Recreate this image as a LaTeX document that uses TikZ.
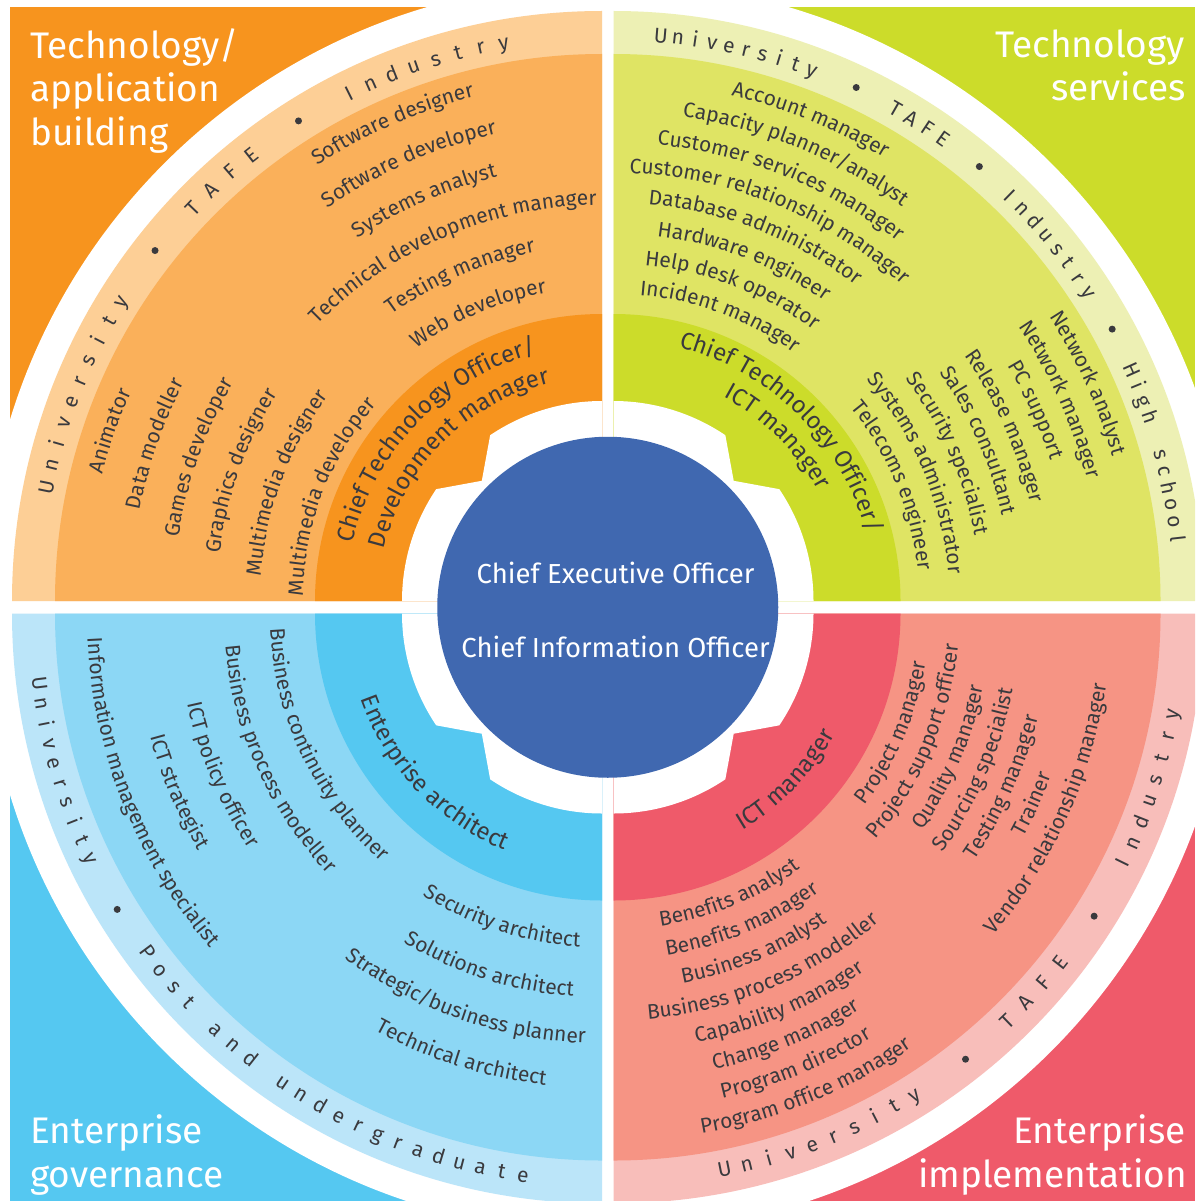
\documentclass[tikz,border=0pt]{standalone}
\usepackage{fontspec}
\setmainfont{Fira Sans}
\usetikzlibrary{decorations.text,calc}

\definecolor{txt}{RGB}{58,58,62}
\definecolor{orD}{RGB}{247,148,30}
\definecolor{orM}{RGB}{250,176,90}
\definecolor{orL}{RGB}{253,207,150}
\definecolor{grD}{RGB}{204,220,42}
\definecolor{grM}{RGB}{223,228,100}
\definecolor{grL}{RGB}{237,240,180}
\definecolor{blD}{RGB}{85,200,241}
\definecolor{blM}{RGB}{140,215,245}
\definecolor{blL}{RGB}{187,229,249}
\definecolor{rdD}{RGB}{239,90,106}
\definecolor{rdM}{RGB}{246,148,132}
\definecolor{rdL}{RGB}{248,190,186}
\definecolor{ceo}{RGB}{64,104,176}

\newcommand\lblfont{\fontsize{21}{25}\selectfont\color{txt}}
\newcommand\darkfont{\fontsize{24}{28}\selectfont\color{txt}}
\newcommand\bandfont{\fontsize{21}{25}\selectfont}
\newcommand\titlefont{\fontsize{37}{44}\selectfont}
\newcommand\ceofont{\fontsize{27.5}{34}\selectfont}

% filled sector
\newcommand\pie[5]{%
  \fill[#1] (#2) -- ($(#2)+(#3:#5)$) arc[start angle=#3, end angle=#4, radius=#5] -- cycle;}

% one quadrant: centre, base angle, dark, mid, light
\newcommand\quadrant[5]{%
  \pie{white}{#1}{#2}{#2+90}{619}
  \pie{#5}{#1}{#2}{#2+90}{590}
  \pie{#4}{#1}{#2}{#2+90}{547}
  \pie{#3}{#1}{#2}{#2+90}{287}
  \fill[white] (#1) -- ($(#1)+(#2:200)$) arc[start angle=#2, end angle=#2+34, radius=200]
     -- ($(#1)+(#2+45:170)$) -- ($(#1)+(#2+56:200)$)
     arc[start angle=#2+56, end angle=#2+90, radius=200] -- cycle;}

% text along a clockwise arc (letter tops outward)
\newcommand\cwtext[5]{%
  \pgfmathsetmacro\sa{#3+80}\pgfmathsetmacro\ea{#3-80}%
  \path[decorate,decoration={text along path,text align=center,text={|#4|#5}}]
    ($(#1)+(\sa:#2)$) arc[start angle=\sa, end angle=\ea, radius=#2];}
% text along a counter-clockwise arc (letter tops inward)
\newcommand\ccwtext[5]{%
  \pgfmathsetmacro\sa{#3-80}\pgfmathsetmacro\ea{#3+80}%
  \path[decorate,decoration={text along path,text align=center,text={|#4|#5}}]
    ($(#1)+(\sa:#2)$) arc[start angle=\sa, end angle=\ea, radius=#2];}

% spaced letters in the outer band
\newcommand\bandword[7]{% prefix, centre, radius, start, step, rot offset, letters
  \foreach \ch [count=\k from 0] in {#7}{%
    \pgfmathsetmacro\ang{#4+\k*(#5)}%
    \node[bandtxt, rotate={\ang#6}] (#1\k) at ($(#2)+(\ang:#3)$) {\ch};
  }}

\begin{document}
\begin{tikzpicture}[x=1pt,y=1pt,
  bandtxt/.style={anchor=base, inner sep=0pt, outer sep=0pt, font=\bandfont, text=txt},
  banddot/.style={circle, fill=txt, inner sep=0pt, minimum size=7pt},
  titletxt/.style={inner sep=0pt, font=\titlefont, text=white},
  ceotxt/.style={anchor=base, inner sep=0pt, font=\ceofont, text=white}]

\useasboundingbox (0,0) rectangle (1195,-1201);
\clip (0,0) rectangle (1195,-1201);
\fill[white] (0,0) rectangle (1195,-1201);

\coordinate (C1) at (602,-601);
\coordinate (C2) at (613.5,-601);
\coordinate (C3) at (602,-613.5);
\coordinate (C4) at (613.5,-613.5);

% corner squares
\fill[orD] (10,-7) rectangle (602,-601);
\fill[grD] (613.5,-7) rectangle (1195,-601);
\fill[blD] (10,-613.5) rectangle (602,-1201);
\fill[rdD] (613.5,-613.5) rectangle (1195,-1201);

\quadrant{C1}{90}{orD}{orM}{orL}
\quadrant{C2}{0}{grD}{grM}{grL}
\quadrant{C3}{180}{blD}{blM}{blL}
\quadrant{C4}{270}{rdD}{rdM}{rdL}

% centre
\node[circle, fill=ceo, minimum size=341pt, inner sep=0pt] (ceo) at (607.75,-607.25) {};
\node[ceotxt] (ceo1) at (615.5,-583.5) {Chief Executive Officer};
\node[ceotxt] (ceo2) at (615.5,-657.5) {Chief Information Officer};

% corner titles
\node[titletxt, anchor=base west] (tl1) at (30,-59) {Technology/};
\node[titletxt, anchor=base west] (tl2) at (30,-102) {application};
\node[titletxt, anchor=base west] (tl3) at (30,-146) {building};
\node[titletxt, anchor=base east] (tr1) at (1185,-58) {Technology};
\node[titletxt, anchor=base east] (tr2) at (1186,-101) {services};
\node[titletxt, anchor=base west] (bl1) at (30,-1143) {Enterprise};
\node[titletxt, anchor=base west] (bl2) at (30,-1187) {governance};
\node[titletxt, anchor=base east] (br1) at (1186,-1143) {Enterprise};
\node[titletxt, anchor=base east] (br2) at (1187,-1187) {implementation};

% ---------- outer bands ----------
% top left
\bandword{tlU}{C1}{560}{168.4}{-2.256}{-90}{U,n,i,v,e,r,s,i,t,y}
\node[banddot] (tlD1) at ($(C1)+(141.9:568)$) {};
\bandword{tlT}{C1}{560}{136.2}{-2.667}{-90}{T,A,F,E}
\node[banddot] (tlD2) at ($(C1)+(122.3:568)$) {};
\bandword{tlI}{C1}{560}{116.5}{-2.357}{-90}{I,n,d,u,s,t,r,y}
% top right
\bandword{trU}{C2}{560}{85.2}{-1.744}{-90}{U,n,i,v,e,r,s,i,t,y}
\node[banddot] (trD1) at ($(C2)+(64.7:568)$) {};
\bandword{trT}{C2}{560}{60.2}{-1.9}{-90}{T,A,F,E}
\node[banddot] (trD2) at ($(C2)+(49.9:568)$) {};
\bandword{trI}{C2}{560}{45.65}{-1.807}{-90}{I,n,d,u,s,t,r,y}
\node[banddot] (trD3) at ($(C2)+(28.6:568)$) {};
\bandword{trH}{C2}{560}{24.0}{-1.7}{-90}{H,i,g,h}
\bandword{trS}{C2}{560}{15.0}{-1.74}{-90}{s,c,h,o,o,l}
% bottom left
\bandword{blU}{C3}{574}{187.1}{2.056}{+90}{U,n,i,v,e,r,s,i,t,y}
\node[banddot] (blD1) at ($(C3)+(211.4:568)$) {};
\bandword{blP}{C3}{574}{216.7}{2.2}{+90}{P,o,s,t}
\bandword{blA}{C3}{574}{227.2}{2.25}{+90}{a,n,d}
\bandword{blG}{C3}{574}{235.8}{2.183}{+90}{u,n,d,e,r,g,r,a,d,u,a,t,e}
% bottom right
\bandword{brU}{C4}{574}{281.3}{2.3}{+90}{U,n,i,v,e,r,s,i,t,y}
\node[banddot] (brD1) at ($(C4)+(308.3:568)$) {};
\bandword{brT}{C4}{574}{314.0}{2.667}{+90}{T,A,F,E}
\node[banddot] (brD2) at ($(C4)+(327.8:568)$) {};
\bandword{brI}{C4}{574}{333.9}{2.271}{+90}{I,n,d,u,s,t,r,y}

% ---------- top left labels ----------
\cwtext{C1}{520}{113.7}{\lblfont}{Software designer}
\cwtext{C1}{479}{113.8}{\lblfont}{Software developer}
\cwtext{C1}{437}{113.9}{\lblfont}{Systems analyst}
\cwtext{C1}{396}{113.3}{\lblfont}{Technical development manager}
\cwtext{C1}{355}{113.55}{\lblfont}{Testing manager}
\cwtext{C1}{313}{113.25}{\lblfont}{Web developer}
\cwtext{C1}{515}{160.9}{\lblfont}{Animator}
\cwtext{C1}{471}{160.65}{\lblfont}{Data modeller}
\cwtext{C1}{428}{160.4}{\lblfont}{Games developer}
\cwtext{C1}{385}{160.2}{\lblfont}{Graphics designer}
\cwtext{C1}{342}{159.5}{\lblfont}{Multimedia designer}
\cwtext{C1}{299}{159}{\lblfont}{Multimedia developer}
\cwtext{C1}{256}{135.8}{\darkfont}{Chief Technology Officer/}
\cwtext{C1}{224}{135}{\darkfont}{Development manager}

% ---------- top right labels ----------
\cwtext{C2}{519}{67.75}{\lblfont}{Account manager}
\cwtext{C2}{489}{67.8}{\lblfont}{Capacity planner/analyst}
\cwtext{C2}{458}{68.1}{\lblfont}{Customer services manager}
\cwtext{C2}{428}{67.7}{\lblfont}{Customer relationship manager}
\cwtext{C2}{398}{68.75}{\lblfont}{Database administrator}
\cwtext{C2}{367}{69}{\lblfont}{Hardware engineer}
\cwtext{C2}{337}{69.1}{\lblfont}{Help desk operator}
\cwtext{C2}{307}{69.5}{\lblfont}{Incident manager}
\cwtext{C2}{520}{24.65}{\lblfont}{Network analyst}
\cwtext{C2}{489}{24.3}{\lblfont}{Network manager}
\cwtext{C2}{459}{24.35}{\lblfont}{PC support}
\cwtext{C2}{428}{24.1}{\lblfont}{Release manager}
\cwtext{C2}{398}{23.7}{\lblfont}{Sales consultant}
\cwtext{C2}{367}{23.8}{\lblfont}{Security specialist}
\cwtext{C2}{336}{22.9}{\lblfont}{Systems administrator}
\cwtext{C2}{306}{22.5}{\lblfont}{Telecoms engineer}
\cwtext{C2}{262}{45.2}{\darkfont}{Chief Technology Officer/}
\cwtext{C2}{232}{45}{\darkfont}{ICT manager}

% ---------- bottom left labels ----------
\ccwtext{C3}{515}{201.6}{\lblfont}{Information management specialist}
\ccwtext{C3}{468}{202.85}{\lblfont}{ICT strategist}
\ccwtext{C3}{424}{203}{\lblfont}{ICT policy officer}
\ccwtext{C3}{378}{204.2}{\lblfont}{Business process modeller}
\ccwtext{C3}{332}{205.5}{\lblfont}{Business continuity planner}
\ccwtext{C3}{334}{251.9}{\lblfont}{Security architect}
\ccwtext{C3}{384}{252.3}{\lblfont}{Solutions architect}
\ccwtext{C3}{430}{250.55}{\lblfont}{Strategic/business planner}
\ccwtext{C3}{475}{252.3}{\lblfont}{Technical architect}
\ccwtext{C3}{256}{223.6}{\darkfont}{Enterprise architect}

% ---------- bottom right labels ----------
\ccwtext{C4}{316}{336.9}{\lblfont}{Project manager}
\ccwtext{C4}{346}{337}{\lblfont}{Project support officer}
\ccwtext{C4}{377}{336.9}{\lblfont}{Quality manager}
\ccwtext{C4}{407}{336.65}{\lblfont}{Sourcing specialist}
\ccwtext{C4}{437}{335.95}{\lblfont}{Testing manager}
\ccwtext{C4}{467}{335.6}{\lblfont}{Trainer}
\ccwtext{C4}{498}{335.75}{\lblfont}{Vendor relationship manager}
\ccwtext{C4}{316}{292.4}{\lblfont}{Benefits analyst}
\ccwtext{C4}{346}{292.7}{\lblfont}{Benefits manager}
\ccwtext{C4}{376}{292.7}{\lblfont}{Business analyst}
\ccwtext{C4}{407}{292.8}{\lblfont}{Business process modeller}
\ccwtext{C4}{437}{293}{\lblfont}{Capability manager}
\ccwtext{C4}{467}{292.2}{\lblfont}{Change manager}
\ccwtext{C4}{497}{292}{\lblfont}{Program director}
\ccwtext{C4}{527}{292.1}{\lblfont}{Program office manager}
\ccwtext{C4}{252}{316}{\darkfont}{ICT manager}
\end{tikzpicture}
\end{document}
